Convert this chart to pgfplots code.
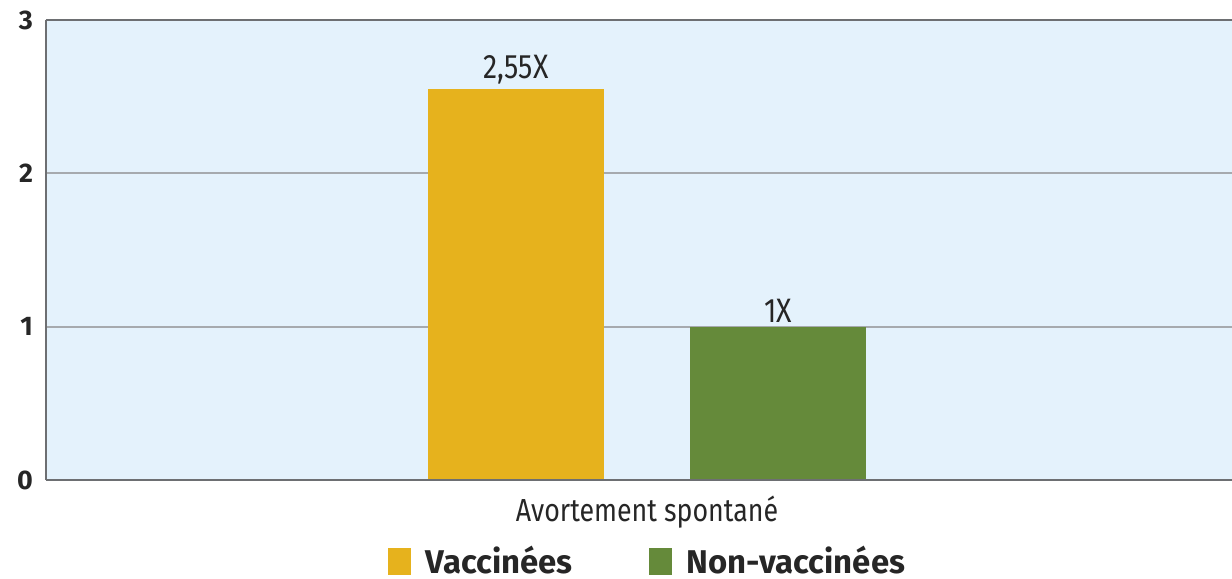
\documentclass[border=0pt]{standalone}
\usepackage{fontspec}
\setmainfont{Fira Sans}
\newfontfamily\cond[FakeStretch=0.84]{Fira Sans}
\usepackage{pgfplots}
\pgfplotsset{compat=1.18}
\definecolor{vyel}{HTML}{E6B21D}
\definecolor{vgrn}{HTML}{658A3A}
\definecolor{bgb}{HTML}{E4F2FC}
\definecolor{bord}{HTML}{6D6F72}
\definecolor{gridc}{HTML}{A6AAAE}
\begin{document}
\begin{tikzpicture}
\begin{axis}[
  at={(0,0)}, anchor=south west,
  scale only axis, width=593bp, height=230bp,
  xmin=-300.5, xmax=292.5, ymin=0, ymax=3,
  ytick={0,1,2,3},
  xtick={0}, xticklabels={Avortement spontané},
  major tick length=0pt,
  ymajorgrids, grid style={gridc, line width=1bp},
  axis line style={draw=none},
  axis background/.style={fill=bgb},
  yticklabel style={font=\fontsize{13.5}{15}\selectfont\bfseries, text=black!85, xshift=-3bp},
  xticklabel style={font=\fontsize{16}{18}\selectfont\cond, text=black!85, yshift=-4.5bp},
  /pgf/number format/assume math mode=true,
  ybar, bar width=88bp,
  nodes near coords style={font=\fontsize{17}{19}\selectfont\cond, text=black!85, inner sep=2bp},
  legend columns=2,
  legend style={at={(rel axis cs:0.508,0)}, anchor=center, yshift=-40.5bp, draw=none, fill=none,
    font=\fontsize{16.5}{18}\selectfont\bfseries, text=black!85,
    /tikz/every even column/.append style={column sep=36bp}},
  legend image code/.code={\fill[#1] (0bp,-6.75bp) rectangle (11.5bp,6.75bp); \path (17bp,0bp);},
  after end axis/.code={
    \draw[bord, line width=1.2bp] (rel axis cs:0,1) -- (rel axis cs:1,1);
    \draw[bord, line width=1.2bp] (rel axis cs:0,0) -- (rel axis cs:1,0);
    \draw[bord, line width=1bp] (rel axis cs:0,0) -- (rel axis cs:0,1);
  },
]
\addplot[fill=vyel, draw=none, bar shift=-65.5bp, nodes near coords={2,55X}] coordinates {(0,2.55)};
\addplot[fill=vgrn, draw=none, bar shift=65.5bp, nodes near coords={1X}] coordinates {(0,1)};
\legend{Vaccinées, Non-vaccinées}
\end{axis}
\pgfresetboundingbox
\useasboundingbox (-23bp,-49.5bp) rectangle (593bp,240bp);
\end{tikzpicture}
\end{document}
